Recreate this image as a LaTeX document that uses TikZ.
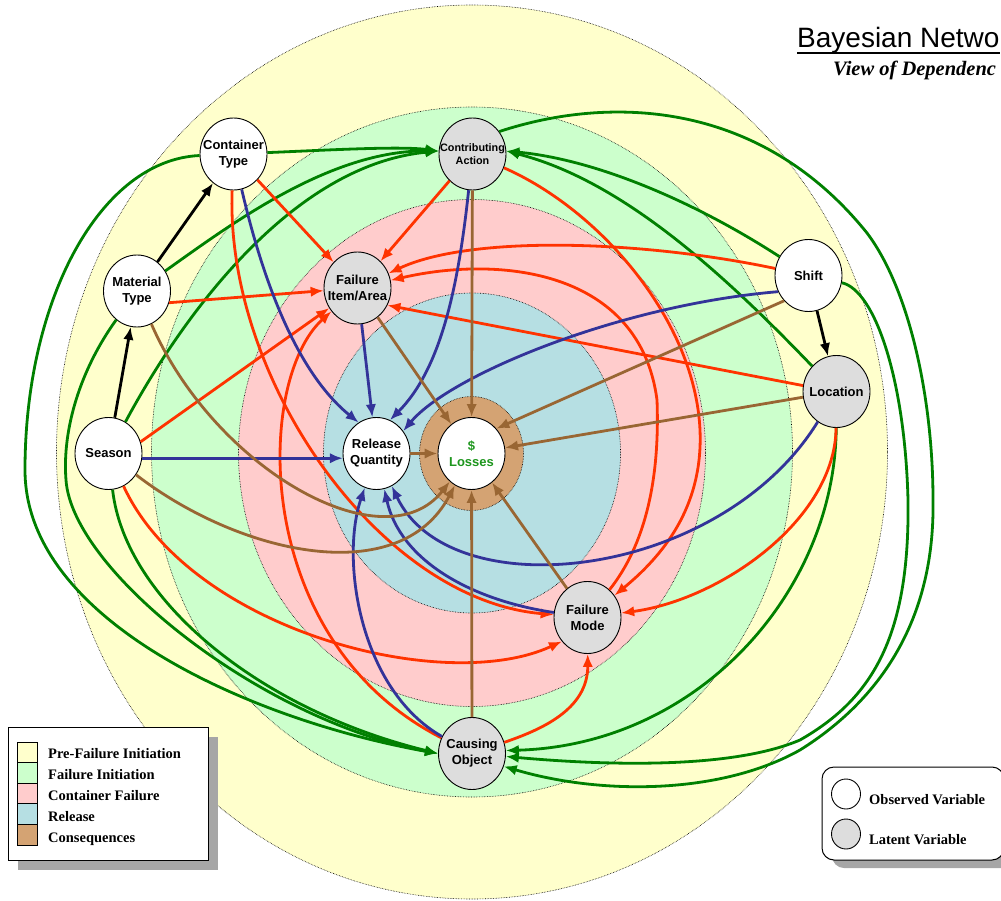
\documentclass[tikz,border=0pt]{standalone}
\usepackage{fontspec}
\setmainfont{Liberation Serif}
\setsansfont{Liberation Sans}
\usetikzlibrary{shapes.geometric,arrows.meta}

\definecolor{prefail}{HTML}{FFFFCC}
\definecolor{failinit}{HTML}{CCFFCC}
\definecolor{contfail}{HTML}{FFCCCC}
\definecolor{releasecol}{HTML}{B6DFE3}
\definecolor{conseqcol}{HTML}{D4A373}
\definecolor{latentcol}{HTML}{DDDDDD}
\definecolor{greenarc}{HTML}{008000}
\definecolor{redarc}{HTML}{FF3300}
\definecolor{bluearc}{HTML}{333399}
\definecolor{brownarc}{HTML}{996633}
\definecolor{moneygreen}{HTML}{1E961E}

\begin{document}
\begin{tikzpicture}[x=1pt,y=-1pt,>={Latex[length=13pt,width=10.5pt]}]
    \tikzstyle{bn node}=[ellipse,draw=black,line width=0.9pt,minimum width=67pt,minimum height=72pt,inner sep=-15pt,align=center,font=\sffamily\bfseries\fontsize{13}{16}\selectfont]
    \tikzstyle{observed node}=[bn node,fill=white]
    \tikzstyle{latent node}=[bn node,fill=latentcol]
    \tikzstyle{zone}=[draw=black,densely dotted,line width=0.6pt]
    \tikzstyle{dep arc}=[->,line width=2.8pt]
    \tikzstyle{context arc}=[dep arc,draw=black]
    \tikzstyle{initiation arc}=[dep arc,draw=greenarc]
    \tikzstyle{failure arc}=[dep arc,draw=redarc]
    \tikzstyle{release arc}=[dep arc,draw=bluearc]
    \tikzstyle{consequence arc}=[dep arc,draw=brownarc]
    \tikzstyle{legend text}=[anchor=base west,inner sep=0pt,font=\bfseries\fontsize{14.5}{16}\selectfont]

    \useasboundingbox (0,0) rectangle (1001,901);

    % Draw the zones, outermost first
    \draw[zone,fill=prefail] (472,452) ellipse [x radius=415.5pt, y radius=447pt];
    \draw[zone,fill=failinit] (472,452) ellipse [x radius=320.5pt, y radius=345pt];
    \draw[zone,fill=contfail] (472,453) ellipse [x radius=233.5pt, y radius=253.5pt];
    \draw[zone,fill=releasecol] (472,453) ellipse [x radius=148.5pt, y radius=160pt];
    \draw[zone,fill=conseqcol] (471.5,453.5) ellipse [x radius=52pt, y radius=57pt];

    % The variables
    \node[observed node] (CT) at (233.5,154) {Container\\Type};
    \node[latent node,font=\sffamily\bfseries\fontsize{10.8}{13.5}\selectfont] (CA) at (472.5,154) {Contributing\\Action};
    \node[observed node] (MT) at (137,291) {Material\\Type};
    \node[latent node] (FIA) at (357.5,288) {Failure\\Item/Area};
    \node[observed node] (Shift) at (808.5,275.5) {Shift};
    \node[latent node] (Loc) at (836.5,391.5) {Location};
    \node[observed node] (Sea) at (108.5,453.5) {Season};
    \node[observed node] (RQ) at (376.5,453.5) {Release\\Quantity};
    \node[observed node,text=moneygreen] (Loss) at (471.5,453.5) {\$\\Losses};
    \node[latent node] (FM) at (587.5,617.5) {Failure\\Mode};
    \node[latent node] (CO) at (472,753.5) {Causing\\Object};

    % Context arcs
    \path (Sea) edge[context arc] (MT);
    \path (MT) edge[context arc] (CT);
    \path (Shift) edge[context arc] (Loc);

    % Failure initiation arcs
    \draw[initiation arc] (CT) .. controls (330,150) and (400,146) .. (CA.175);
    \draw[initiation arc] (MT) .. controls (230,225) and (330,150) .. (CA.175);
    \draw[initiation arc] (Sea) .. controls (180,320) and (290,165) .. (CA.175);
    \draw[initiation arc] (Shift) .. controls (700,205) and (600,160) .. (CA.5);
    \draw[initiation arc] (Loc) .. controls (720,270) and (620,180) .. (CA.5);
    \draw[initiation arc] (CT) .. controls (100,160) and (25,300) .. (25,470) .. controls (25,620) and (250,720) .. (CO.180);
    \draw[initiation arc] (MT) .. controls (80,370) and (62,430) .. (66,480) .. controls (72,570) and (260,720) .. (CO.180);
    \draw[initiation arc] (Sea) .. controls (125,600) and (260,710) .. (CO.180);
    \draw[initiation arc] (Loc) .. controls (835,590) and (700,745) .. (CO.5);
    \draw[initiation arc] (Shift) .. controls (875,290) and (905,380) .. (908,500) .. controls (910,640) and (870,700) .. (800,740) .. controls (730,770) and (600,765) .. (CO.-5);
    \draw[initiation arc] (CA.40) .. controls (610,95) and (760,100) .. (867,233) .. controls (910,290) and (933,400) .. (933,500) .. controls (935,620) and (880,700) .. (800,750) .. controls (720,795) and (600,795) .. (CO.-22);

    % Container failure arcs
    \path (CT) edge[failure arc] (FIA);
    \path (CA) edge[failure arc] (FIA);
    \path (MT.-20) edge[failure arc] (FIA);
    \path (Sea.20) edge[failure arc] (FIA);
    \path (Loc.170) edge[failure arc] (FIA.-30);
    \draw[failure arc] (Shift) .. controls (640,240) and (470,235) .. (FIA);
    \draw[failure arc] (CO) .. controls (250,640) and (255,380) .. (FIA);
    \draw[failure arc] (FM) .. controls (645,545) and (660,480) .. (657,400) .. controls (640,270) and (500,255) .. (FIA);
    \draw[failure arc] (CA) .. controls (600,210) and (695,320) .. (700,430) .. controls (703,500) and (670,550) .. (FM);
    \draw[failure arc] (CT) .. controls (225,380) and (380,600) .. (FM);
    \draw[failure arc] (Sea) .. controls (190,630) and (444,696) .. (FM.223);
    \draw[failure arc] (Loc) .. controls (835,520) and (720,600) .. (FM);
    \draw[failure arc] (CO) .. controls (540,730) and (588,710) .. (FM);

    % Release arcs
    \path (Sea.-8) edge[release arc] (RQ.188);
    \path (FIA) edge[release arc] (RQ);
    \draw[release arc] (CT) .. controls (265,290) and (300,375) .. (RQ.120);
    \draw[release arc] (CA) .. controls (458,290) and (440,370) .. (RQ.68);
    \draw[release arc] (Shift.208) .. controls (620,305) and (450,375) .. (RQ.40);
    \draw[release arc] (Loc) .. controls (720,580) and (450,610) .. (RQ);
    \draw[release arc] (FM) .. controls (470,600) and (400,560) .. (RQ);
    \draw[release arc] (CO) .. controls (360,690) and (340,560) .. (RQ);

    % Consequence arcs
    \path (RQ) edge[consequence arc] (Loss);
    \path (FIA) edge[consequence arc] (Loss);
    \path (CA) edge[consequence arc] (Loss);
    \path (Shift.226) edge[consequence arc] (Loss.45);
    \path (Loc) edge[consequence arc] (Loss);
    \path (FM) edge[consequence arc] (Loss);
    \path (CO) edge[consequence arc] (Loss);
    \draw[consequence arc] (MT) .. controls (215,470) and (385,565) .. (Loss);
    \draw[consequence arc] (Sea) .. controls (240,555) and (400,590) .. (Loss);

    % Title, as far as the page shows it
    \node[anchor=base west,inner sep=0pt,font=\sffamily\fontsize{28}{30}\selectfont] (title) at (797,48) {Bayesian Netwo};
    \draw[line width=2pt] ([yshift=-5pt]title.base west) -- ([yshift=-5pt]title.base east);
    \node[anchor=base west,inner sep=0pt,font=\bfseries\itshape\fontsize{20.5}{23}\selectfont] (subtitle) at (833,76) {View of Dependenc};

    % Legend of the zones
    \fill[black!35] (18,737) rectangle (218,870);
    \draw[fill=white,line width=1pt] (8,727) rectangle (208,860);
    \foreach \col/\txt [count=\i] in {prefail/Pre-Failure Initiation,failinit/Failure Initiation,contfail/Container Failure,releasecol/Release,conseqcol/Consequences} {
        \draw[fill=\col,line width=0.8pt] (17,721.4+20.6*\i) rectangle (37,742+20.6*\i);
        \node[legend text] (zone-\i) at (48,737+21*\i) {\txt};
    }

    % Legend of the variables
    \fill[black!35,rounded corners=12pt] (832,777) rectangle (1014,868);
    \draw[fill=white,rounded corners=12pt,line width=1pt] (822,767) rectangle (1004,860);
    \node[observed node,minimum width=29pt,minimum height=30pt] (key-obs) at (846,794) {};
    \node[latent node,minimum width=29pt,minimum height=30pt] (key-lat) at (846,834) {};
    \node[legend text] (key-obs-text) at (869,804) {Observed Variable};
    \node[legend text] (key-lat-text) at (869,844) {Latent Variable};
\end{tikzpicture}
\end{document}
